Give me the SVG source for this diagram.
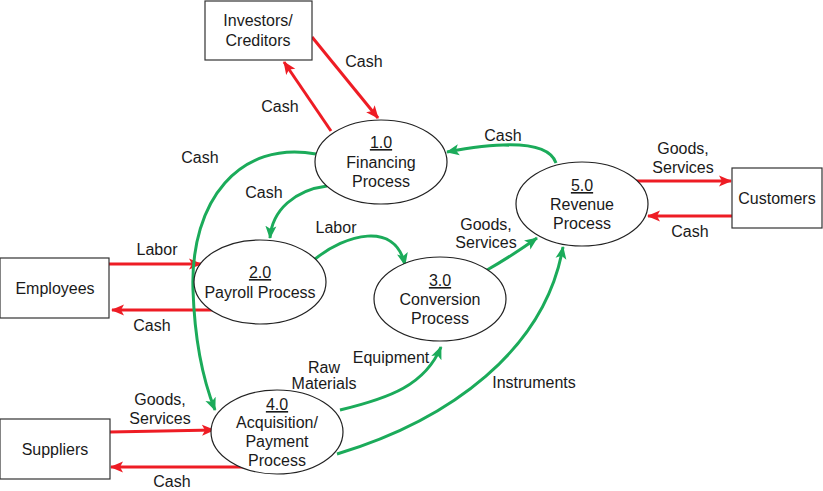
<svg xmlns="http://www.w3.org/2000/svg" width="823" height="491" viewBox="0 0 823 491">
<style>
text{font-family:"Liberation Sans",Arial,sans-serif;font-size:16px;fill:#1a1a1a}
.c{text-anchor:middle}
.box{fill:#fff;stroke:#333;stroke-width:1.2}
.proc{fill:#fff;stroke:#222;stroke-width:1.2}
.r{fill:none;stroke:#ee1c24;stroke-width:3;marker-end:url(#ar)}
.g{fill:none;stroke:#1bab5a;stroke-width:3;marker-end:url(#ag)}
</style>
<defs>
<marker id="ar" markerUnits="userSpaceOnUse" markerWidth="14" markerHeight="14" viewBox="0 0 14 14" refX="12" refY="7" orient="auto"><path d="M0,1.5 L13,7 L0,12.5 L3,7 z" fill="#ee1c24"/></marker>
<marker id="ag" markerUnits="userSpaceOnUse" markerWidth="14" markerHeight="14" viewBox="0 0 14 14" refX="12" refY="7" orient="auto"><path d="M0,1.5 L13,7 L0,12.5 L3,7 z" fill="#1bab5a"/></marker>
</defs>
<rect width="823" height="491" fill="#fff"/>
<g id="connectors">
<path class="r" d="M312,37 L378,118"/>
<path class="r" d="M331,131 L284,62"/>
<path class="r" d="M635,181 L731,181"/>
<path class="r" d="M732,216 L648,216"/>
<path class="r" d="M109,264 L201,264"/>
<path class="r" d="M213,310 L112,310"/>
<path class="r" d="M110,432 L214,430"/>
<path class="r" d="M248,467 L111,467"/>
<path class="g" d="M556,163 C548,140 500,142 447,152"/>
<path class="g" d="M316,154 C240,140 190,200 193,290 C195,350 205,385 215,410"/>
<path class="g" d="M327,186 C295,190 272,210 270,238"/>
<path class="g" d="M315,259 C345,235 395,220 405,265"/>
<path class="g" d="M487,270 Q510,257 537,238"/>
<path class="g" d="M340,410 C390,398 425,385 441,347"/>
<path class="g" d="M337,454 C450,420 545,350 563,247"/>
<text class="c" x="364" y="67">Cash</text>
<text class="c" x="280" y="112">Cash</text>
<text class="c" x="683" y="154">Goods,</text>
<text class="c" x="683" y="173">Services</text>
<text class="c" x="690" y="237">Cash</text>
<text class="c" x="157" y="255">Labor</text>
<text class="c" x="152" y="331">Cash</text>
<text class="c" x="160" y="405">Goods,</text>
<text class="c" x="160" y="424">Services</text>
<text class="c" x="172" y="487">Cash</text>
<text class="c" x="503" y="141">Cash</text>
<text class="c" x="200" y="163">Cash</text>
<text class="c" x="264" y="198">Cash</text>
<text class="c" x="336" y="233">Labor</text>
<text class="c" x="486" y="230">Goods,</text>
<text class="c" x="486" y="248">Services</text>
<text class="c" x="324" y="373">Raw</text>
<text class="c" x="324" y="389">Materials</text>
<text class="c" x="391" y="363">Equipment</text>
<text class="c" x="534" y="388">Instruments</text>
</g>
<g id="investors"><rect class="box" x="205" y="1" width="107" height="59"/><text class="c" x="258" y="26">Investors/</text><text class="c" x="258" y="46">Creditors</text></g>
<g id="customers"><rect class="box" x="732" y="168" width="90" height="60"/><text class="c" x="777" y="204">Customers</text></g>
<g id="employees"><rect class="box" x="0" y="258" width="109" height="60"/><text class="c" x="55" y="294">Employees</text></g>
<g id="suppliers"><rect class="box" x="0" y="419" width="110" height="60"/><text class="c" x="55" y="455">Suppliers</text></g>
<g id="p1"><ellipse class="proc" cx="381" cy="162" rx="66" ry="42"/><text class="c" x="381" y="148" text-decoration="underline">1.0</text><text class="c" x="381" y="168">Financing</text><text class="c" x="381" y="187">Process</text></g>
<g id="p5"><ellipse class="proc" cx="582" cy="204" rx="66" ry="42"/><text class="c" x="582" y="191" text-decoration="underline">5.0</text><text class="c" x="582" y="210">Revenue</text><text class="c" x="582" y="229">Process</text></g>
<g id="p2"><ellipse class="proc" cx="260" cy="282" rx="66" ry="42"/><text class="c" x="260" y="278" text-decoration="underline">2.0</text><text class="c" x="260" y="298">Payroll Process</text></g>
<g id="p3"><ellipse class="proc" cx="440" cy="299" rx="66" ry="42"/><text class="c" x="440" y="286" text-decoration="underline">3.0</text><text class="c" x="440" y="305">Conversion</text><text class="c" x="440" y="324">Process</text></g>
<g id="p4"><ellipse class="proc" cx="277" cy="432" rx="66" ry="42"/><text class="c" x="277" y="410" text-decoration="underline">4.0</text><text class="c" x="277" y="428">Acquisition/</text><text class="c" x="277" y="447">Payment</text><text class="c" x="277" y="466">Process</text></g>
</svg>
